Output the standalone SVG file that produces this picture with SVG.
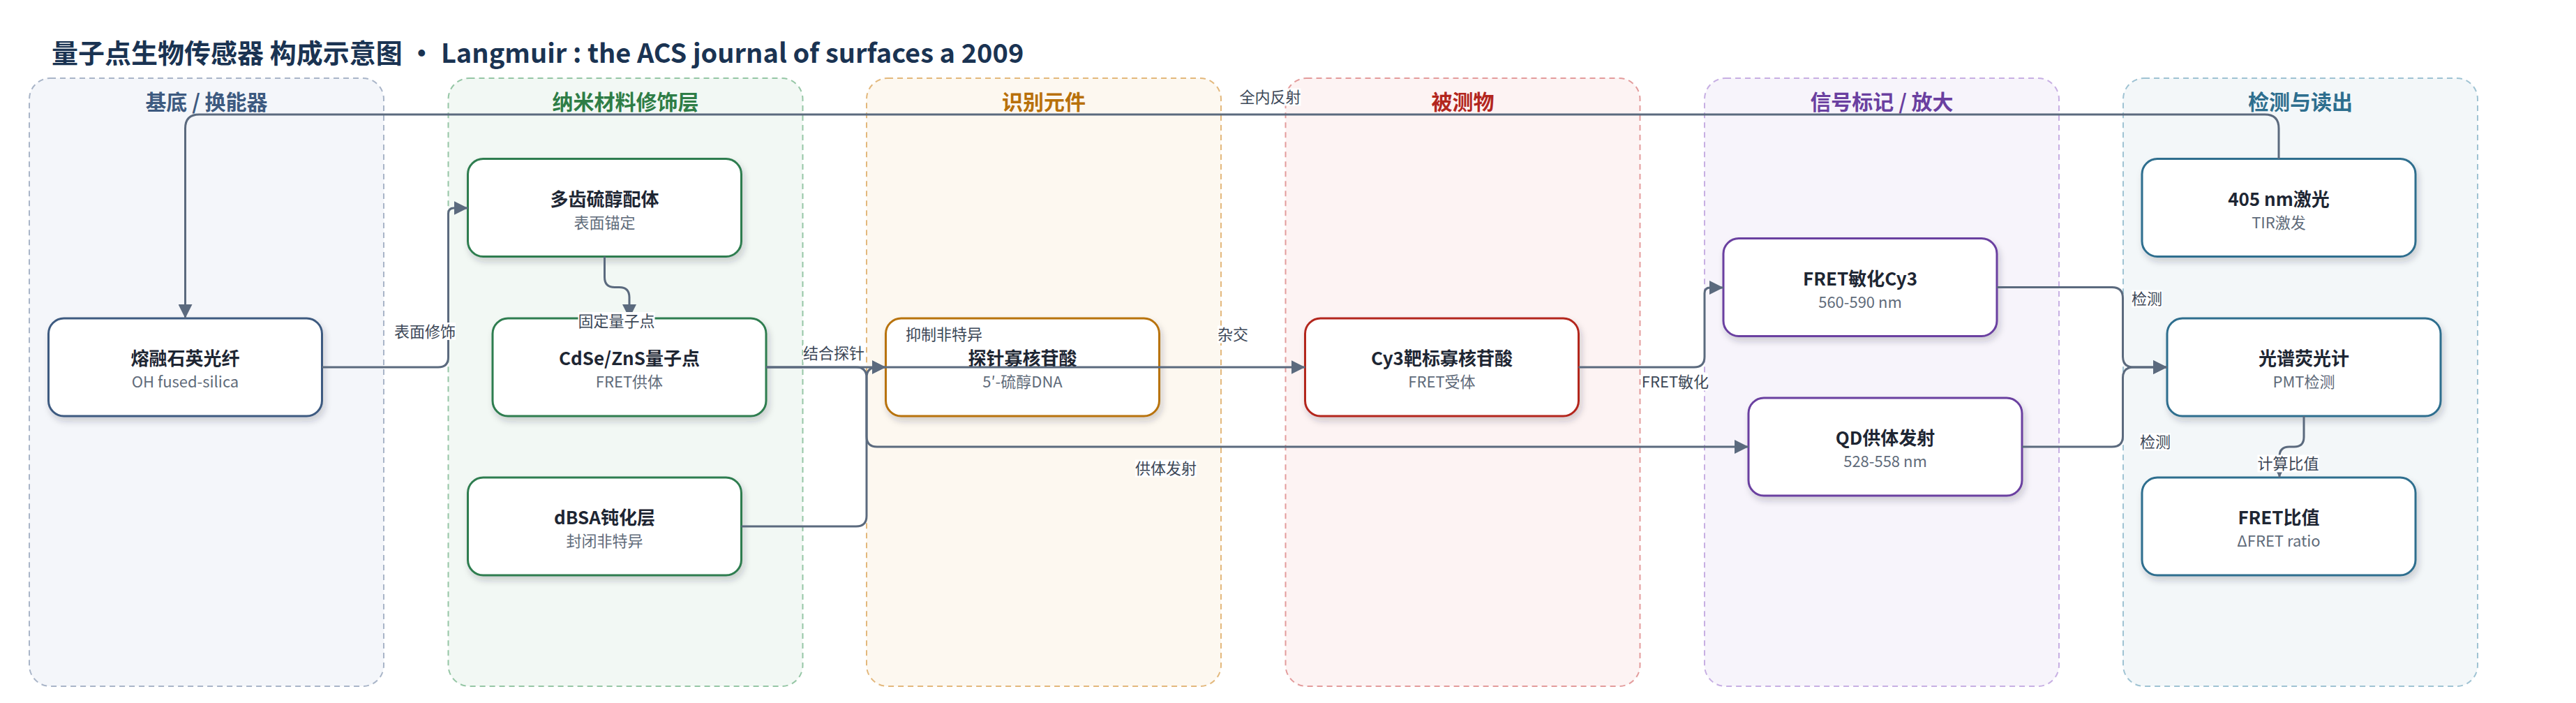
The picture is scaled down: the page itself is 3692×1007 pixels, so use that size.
<svg xmlns="http://www.w3.org/2000/svg" width="3692" height="1007" viewBox="0 0 3692 1007">
<defs>
<style>
text{font-family:"Noto Sans CJK SC","Noto Sans",sans-serif}
.title{font-size:38px;font-weight:700;fill:#1a3352}
.lane{stroke-width:2;stroke-dasharray:8 6}
.lt{font-size:30px;font-weight:700;text-anchor:middle}
.node{fill:#fff;stroke-width:3;filter:url(#sh)}
.nt{font-size:26px;font-weight:700;fill:#1e2633;text-anchor:middle}
.ns{font-size:22px;fill:#5f6b7a;text-anchor:middle}
.edge{fill:none;stroke:#5b6a7e;stroke-width:3;marker-end:url(#arr)}
.lb{font-size:22px;fill:#3c4757;text-anchor:middle}
.lbg{fill:#fff}
</style>
<filter id="sh" x="-10%" y="-20%" width="125%" height="150%">
<feDropShadow dx="3" dy="6" stdDeviation="5" flood-color="#1e293b" flood-opacity="0.2"/>
</filter>
<marker id="arr" markerUnits="userSpaceOnUse" markerWidth="20" markerHeight="20" refX="20" refY="10" orient="auto">
<path d="M0,0 L20,10 L0,20 Z" fill="#5b6a7e"/>
</marker>
</defs>
<rect width="3692" height="1007" fill="#fff"/>
<text class="title" x="74" y="90">量子点生物传感器 构成示意图 · Langmuir : the ACS journal of surfaces a 2009</text>

<g id="lanes">
<g id="lane-substrate"><rect class="lane" x="42" y="112" width="508" height="871" rx="30" fill="#f4f6fa" stroke="#a9b5c8"/><text class="lt" x="296" y="157" fill="#3d5a80">基底 / 换能器</text></g>
<g id="lane-nano"><rect class="lane" x="642.5" y="112" width="508" height="871" rx="30" fill="#f2f8f4" stroke="#95c6a5"/><text class="lt" x="896.5" y="157" fill="#2e7d46">纳米材料修饰层</text></g>
<g id="lane-recog"><rect class="lane" x="1242" y="112" width="508" height="871" rx="30" fill="#fdf8f0" stroke="#e3b87c"/><text class="lt" x="1496" y="157" fill="#b8700a">识别元件</text></g>
<g id="lane-analyte"><rect class="lane" x="1842.5" y="112" width="508" height="871" rx="30" fill="#fdf3f3" stroke="#e39c9c"/><text class="lt" x="2096.5" y="157" fill="#b3261e">被测物</text></g>
<g id="lane-signal"><rect class="lane" x="2443" y="112" width="508" height="871" rx="30" fill="#f7f4fb" stroke="#c7afe3"/><text class="lt" x="2697" y="157" fill="#6a3fa0">信号标记 / 放大</text></g>
<g id="lane-detect"><rect class="lane" x="3043" y="112" width="508" height="871" rx="30" fill="#f3f7f9" stroke="#9fc3d3"/><text class="lt" x="3297" y="157" fill="#2d6e8e">检测与读出</text></g>
</g>

<g id="nodes">
<g id="n-fiber"><rect class="node" x="69.5" y="456" width="392" height="140" rx="22" stroke="#3d5a80"/><text class="nt" x="265.5" y="523">熔融石英光纤</text><text class="ns" x="265.5" y="555">OH fused-silica</text></g>
<g id="n-thiol"><rect class="node" x="670.5" y="227.5" width="392" height="140" rx="22" stroke="#2e7d4f"/><text class="nt" x="866.5" y="294.5">多齿硫醇配体</text><text class="ns" x="866.5" y="326.5">表面锚定</text></g>
<g id="n-qd"><rect class="node" x="706" y="456" width="392" height="140" rx="22" stroke="#2e7d4f"/><text class="nt" x="902" y="523">CdSe/ZnS量子点</text><text class="ns" x="902" y="555">FRET供体</text></g>
<g id="n-dbsa"><rect class="node" x="670.5" y="684" width="392" height="140" rx="22" stroke="#2e7d4f"/><text class="nt" x="866.5" y="751">dBSA钝化层</text><text class="ns" x="866.5" y="783">封闭非特异</text></g>
<g id="n-probe"><rect class="node" x="1269.5" y="456" width="392" height="140" rx="22" stroke="#b8730b"/><text class="nt" x="1465.5" y="523">探针寡核苷酸</text><text class="ns" x="1465.5" y="555">5′-硫醇DNA</text></g>
<g id="n-target"><rect class="node" x="1870.5" y="456" width="392" height="140" rx="22" stroke="#b3261e"/><text class="nt" x="2066.5" y="523">Cy3靶标寡核苷酸</text><text class="ns" x="2066.5" y="555">FRET受体</text></g>
<g id="n-cy3"><rect class="node" x="2470" y="341.5" width="392" height="140" rx="22" stroke="#6a3fa0"/><text class="nt" x="2666" y="408.5">FRET敏化Cy3</text><text class="ns" x="2666" y="440.5">560-590 nm</text></g>
<g id="n-qdem"><rect class="node" x="2506" y="570" width="392" height="140" rx="22" stroke="#6a3fa0"/><text class="nt" x="2702" y="637">QD供体发射</text><text class="ns" x="2702" y="669">528-558 nm</text></g>
<g id="n-laser"><rect class="node" x="3070" y="227.5" width="392" height="140" rx="22" stroke="#2d6e8e"/><text class="nt" x="3266" y="294.5">405 nm激光</text><text class="ns" x="3266" y="326.5">TIR激发</text></g>
<g id="n-spec"><rect class="node" x="3106" y="456" width="392" height="140" rx="22" stroke="#2d6e8e"/><text class="nt" x="3302" y="523">光谱荧光计</text><text class="ns" x="3302" y="555">PMT检测</text></g>
<g id="n-ratio"><rect class="node" x="3070" y="684" width="392" height="140" rx="22" stroke="#2d6e8e"/><text class="nt" x="3266" y="751">FRET比值</text><text class="ns" x="3266" y="783">ΔFRET ratio</text></g>
</g>

<g id="connectors">
<path class="edge" d="M3266,227.5 V184 Q3266,164 3246,164 H285.5 Q265.5,164 265.5,184 V456"/>
<path class="edge" d="M461.5,526 H628 Q642.5,526 642.5,511.5 V306 Q642.5,298 650.5,298 H670.5"/>
<path class="edge" d="M866.5,367.5 V397 Q866.5,411.5 881,411.5 H887.5 Q902,411.5 902,426 V456"/>
<path class="edge" d="M1098,526 H1269.5"/>
<path class="edge" d="M1062.5,754 H1227 Q1242,754 1242,739 V541 Q1242,526 1257,526 H1269.5"/>
<path class="edge" d="M1098,526 H1227 Q1242,526 1242,541 V625 Q1242,640 1257,640 H2506"/>
<path class="edge" d="M1269.5,526 H1870.5"/>
<path class="edge" d="M2262.5,526 H2428 Q2443,526 2443,511 V420 Q2443,412 2451,412 H2470"/>
<path class="edge" d="M2862,411.5 H3027 Q3042.5,411.5 3042.5,427 V511 Q3042.5,526 3058,526 H3106"/>
<path class="edge" d="M2898,640 H3027 Q3042.5,640 3042.5,625 V541 Q3042.5,526 3058,526 H3106"/>
<path class="edge" d="M3302,596 V626 Q3302,640 3288,640 H3281 Q3267,640 3267,654 V684"/>
<g id="edge-labels">
<rect class="lbg" x="1776.5" y="126.5" width="88" height="25"/><text class="lb" x="1820.5" y="147">全内反射</text>
<rect class="lbg" x="565" y="462" width="88" height="25"/><text class="lb" x="609" y="482.5">表面修饰</text>
<rect class="lbg" x="828.5" y="447" width="110" height="25"/><text class="lb" x="883.5" y="467.5">固定量子点</text>
<rect class="lbg" x="1151" y="493.5" width="88" height="25"/><text class="lb" x="1195" y="514">结合探针</text>
<text class="lb" x="1353" y="487">抑制非特异</text>
<rect class="lbg" x="1745" y="466.5" width="44" height="25"/><text class="lb" x="1767" y="487">杂交</text>
<rect class="lbg" x="1627" y="658.5" width="88" height="25"/><text class="lb" x="1671" y="679">供体发射</text>
<rect class="lbg" x="2354" y="534.5" width="94" height="25"/><text class="lb" x="2401" y="555">FRET敏化</text>
<rect class="lbg" x="3055" y="415.5" width="44" height="25"/><text class="lb" x="3077" y="436">检测</text>
<rect class="lbg" x="3067" y="620.5" width="44" height="25"/><text class="lb" x="3089" y="641">检测</text>
<rect class="lbg" x="3235.5" y="651.5" width="88" height="25"/><text class="lb" x="3279.5" y="672">计算比值</text>
</g>
</g>
</svg>
